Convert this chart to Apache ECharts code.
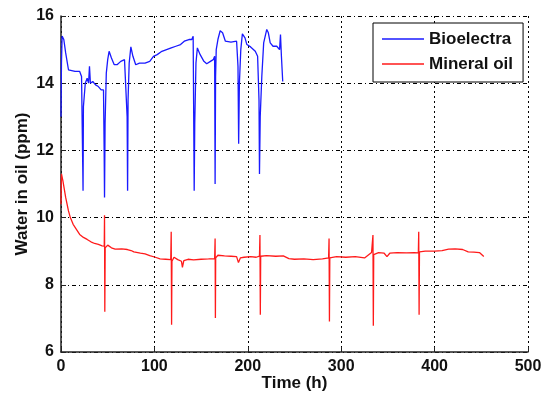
<!DOCTYPE html>
<html>
<head>
<meta charset="utf-8">
<script src="https://cdn.jsdelivr.net/npm/echarts@6/dist/echarts.min.js"></script>
<style>
html,body{margin:0;padding:0;background:#fff;}
#chart{width:542px;height:393px;}
</style>
</head>
<body>
<div id="chart"></div>
<script>
var xTicks = [0, 100, 200, 300, 400, 500];
var yTicks = [6, 8, 10, 12, 14, 16];
var seriesNames = ['Bioelectra', 'Mineral oil'];

var bioTime = [0,0.5,1.2,3,5,8,10,15,20,22,23.3,23.6,24,26,28,29.5,30.5,31.5,34,37,40,43,45.5,46.2,46.6,47.2,48.5,50,51.5,54,57,60,64,68,70,70.8,71.3,71.8,73,74.8,77,80,84,90,95,99,103,108,113,118,123,128,132,137,140,141.5,142.2,142.6,143.2,144.5,146,149,153,156,160,163,164.5,165,165.5,166.2,168,170.4,173,176,182,188,189.5,190.2,191,192.5,194.2,197,199,203,208,210.5,212,212.5,213.3,215,217,220.3,222,224,227,231,234,235,236,237.4];
var bioWater = [13.0,14.6,15.4,15.3,14.9,14.4,14.35,14.35,14.35,14.2,11.5,10.8,13.3,14.0,14.15,14.0,14.5,14.0,14.05,13.95,13.9,13.8,13.8,12.0,10.6,12.8,14.3,14.7,14.95,14.75,14.55,14.55,14.65,14.7,14.75,13.0,10.8,13.5,14.6,15.08,14.8,14.55,14.6,14.6,14.65,14.8,14.85,14.95,15.0,15.05,15.1,15.15,15.25,15.3,15.3,15.4,12.5,10.8,12.8,14.6,15.05,14.85,14.65,14.58,14.65,14.7,14.8,11.0,14.2,15.0,15.3,15.56,15.5,15.25,15.22,15.25,14.5,12.2,14.0,15.0,15.47,15.35,15.15,15.08,14.95,14.8,13.5,11.3,13.0,14.2,15.2,15.6,15.5,15.2,15.1,15.1,15.0,15.45,14.8,14.05];

var oilTime = [0,0.5,2,5,8,10,13,17,20,24,28,32,36,40,44,46.3,46.6,46.9,47.3,50,54,58,65,71,75,78,85,90,95,101,106,112,117.5,118,118.4,118.8,121,125,129,130,131.5,136,142,150,158,164.5,165,165.3,165.6,168,175,182,188,190,192,196,203,209,212.5,213,213.4,213.8,220,230,238,244,250,260,270,280,286.5,287,287.4,287.8,295,305,315,325,332.5,334,334.4,334.8,340,346,349,352,360,370,378,382.6,383,383.4,383.8,390,400,408,415,422,430,436,442,448,452.7];
var oilWater = [10.4,11.3,11.1,10.6,10.2,10.0,9.8,9.63,9.5,9.41,9.35,9.28,9.23,9.2,9.16,9.15,10.07,7.2,9.1,9.18,9.1,9.06,9.07,9.05,9.02,8.98,8.94,8.92,8.87,8.82,8.77,8.76,8.75,9.58,6.81,8.7,8.82,8.75,8.7,8.52,8.72,8.76,8.74,8.76,8.77,8.78,9.38,7.01,8.8,8.88,8.86,8.85,8.84,8.66,8.8,8.82,8.84,8.82,8.85,9.48,7.11,8.85,8.87,8.85,8.86,8.78,8.76,8.77,8.75,8.77,8.8,9.38,6.91,8.8,8.84,8.82,8.84,8.8,8.96,9.48,6.78,8.9,8.96,8.94,8.84,8.94,8.96,8.95,8.96,8.95,9.58,7.11,8.98,9.0,9.0,9.02,9.06,9.07,9.05,8.98,8.97,8.96,8.84];

function pairs(xs, ys){ return xs.map(function(x,i){ return [x, ys[i]]; }); }

var FONT = 'Liberation Sans, Arial, sans-serif';
var chart = echarts.init(document.getElementById('chart'), null, {renderer:'canvas'});
chart.setOption({
  animation: false,
  backgroundColor: '#fff',
  grid: {left: 61, right: 14, top: 16, bottom: 41, containLabel: false, outerBoundsMode: 'none'},
  legend: {
    orient: 'vertical',
    left: 373, top: 23,
    padding: [6, 10, 8, 9],
    icon: 'rect',
    itemWidth: 42, itemHeight: 1.5, itemGap: 5,
    borderColor: '#000', borderWidth: 1,
    backgroundColor: '#fff',
    textStyle: {fontFamily: FONT, fontSize: 17, fontWeight: 'bold', color: '#111', lineHeight: 20},
    data: seriesNames
  },
  xAxis: {
    type: 'value', min: xTicks[0], max: xTicks[xTicks.length-1], interval: 100,
    name: 'Time (h)', nameLocation: 'middle', nameGap: 23, nameMoveOverlap: false,
    nameTextStyle: {fontFamily: FONT, fontSize: 17, fontWeight: 'bold', color: '#111'},
    axisLine: {show: true, onZero: false, lineStyle: {color: '#222', width: 1.5}},
    axisTick: {show: true, inside: true, length: 5, lineStyle: {color: '#222'}},
    axisLabel: {fontFamily: FONT, fontSize: 16, fontWeight: 'bold', color: '#111', margin: 7},
    splitLine: {show: true, lineStyle: {color: '#000', width: 1, type: [2, 3]}}
  },
  yAxis: {
    type: 'value', min: yTicks[0], max: yTicks[yTicks.length-1], interval: 2,
    name: 'Water in oil (ppm)', nameLocation: 'middle', nameGap: 30, nameMoveOverlap: false,
    nameTextStyle: {fontFamily: FONT, fontSize: 17, fontWeight: 'bold', color: '#111'},
    axisLine: {show: true, onZero: false, lineStyle: {color: '#222', width: 1.5}},
    axisTick: {show: true, inside: true, length: 5, lineStyle: {color: '#222'}},
    axisLabel: {fontFamily: FONT, fontSize: 16, fontWeight: 'bold', color: '#111', margin: 7},
    splitLine: {show: true, lineStyle: {color: '#000', width: 1, type: [4, 3, 1, 3]}}
  },
  series: [
    {name: seriesNames[0], type: 'line', symbol: 'none', data: pairs(bioTime, bioWater),
     lineStyle: {color: '#1a1aff', width: 1.3}, itemStyle: {color: '#1a1aff'}},
    {name: seriesNames[1], type: 'line', symbol: 'none', data: pairs(oilTime, oilWater),
     lineStyle: {color: '#ff1a1a', width: 1.3}, itemStyle: {color: '#ff1a1a'}}
  ]
});
</script>
</body>
</html>
